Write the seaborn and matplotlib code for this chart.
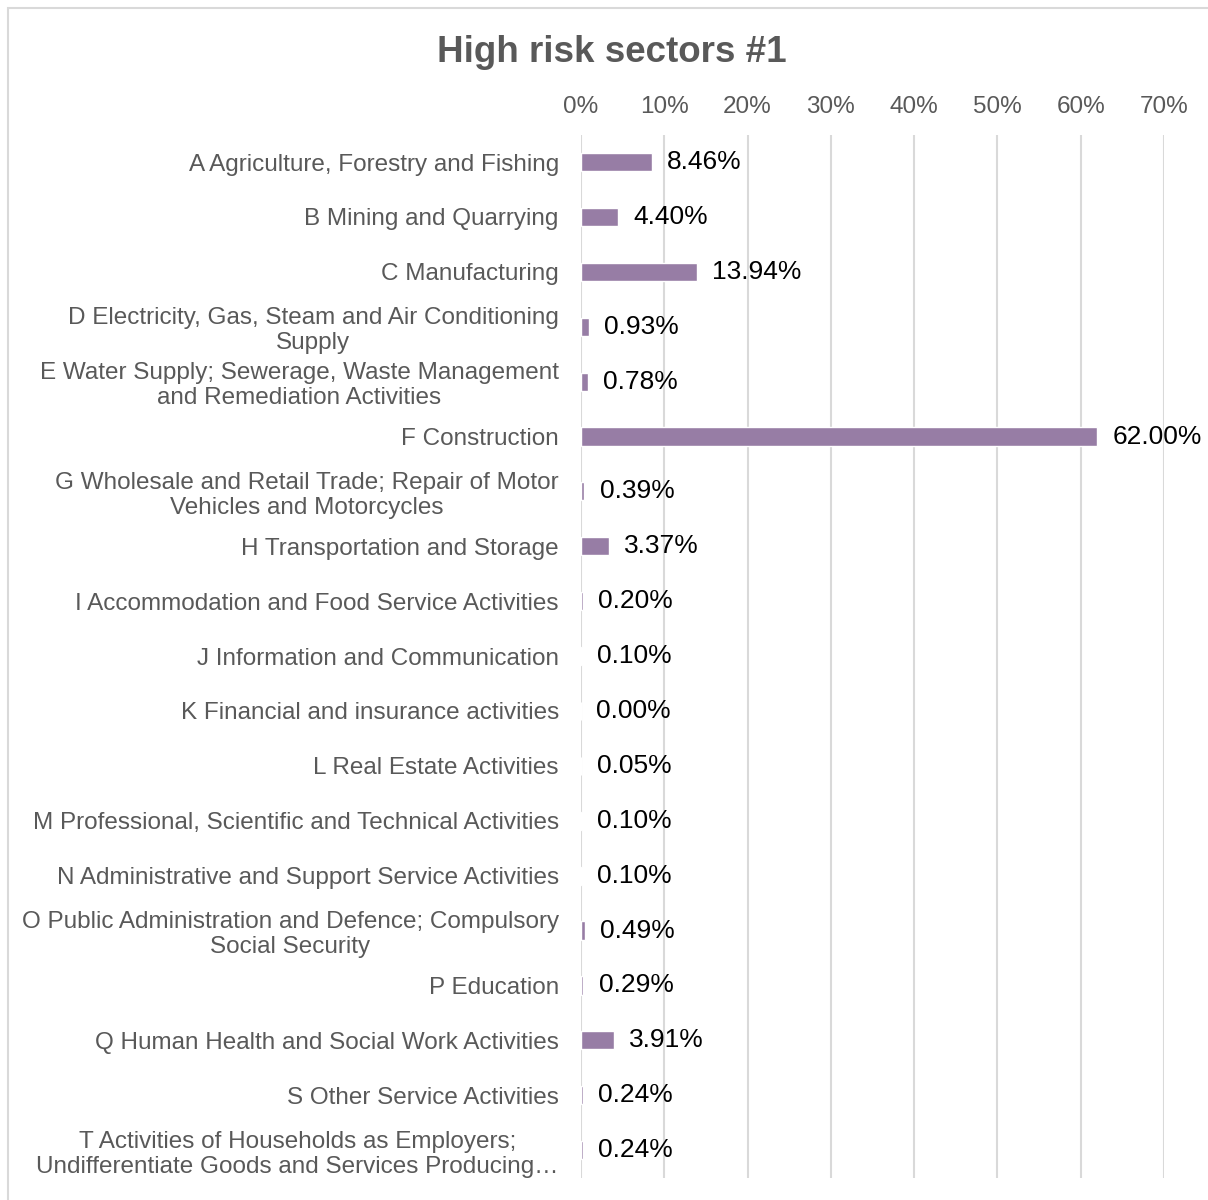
import matplotlib
matplotlib.use("Agg")
import matplotlib.pyplot as plt
import seaborn as sns
import pandas as pd
from matplotlib.patches import Rectangle

# data
sectors = [
    "A Agriculture, Forestry and Fishing",
    "B Mining and Quarrying",
    "C Manufacturing",
    "D Electricity, Gas, Steam and Air Conditioning\nSupply",
    "E Water Supply; Sewerage, Waste Management\nand Remediation Activities",
    "F Construction",
    "G Wholesale and Retail Trade; Repair of Motor\nVehicles and Motorcycles",
    "H Transportation and Storage",
    "I Accommodation and Food Service Activities",
    "J Information and Communication",
    "K Financial and insurance activities",
    "L Real Estate Activities",
    "M Professional, Scientific and Technical Activities",
    "N Administrative and Support Service Activities",
    "O Public Administration and Defence; Compulsory\nSocial Security",
    "P Education",
    "Q Human Health and Social Work Activities",
    "S Other Service Activities",
    "T Activities of Households as Employers;\nUndifferentiate Goods and Services Producing…",
]
shares = [8.46, 4.40, 13.94, 0.93, 0.78, 62.00, 0.39, 3.37, 0.20, 0.10,
          0.00, 0.05, 0.10, 0.10, 0.49, 0.29, 3.91, 0.24, 0.24]
x_ticks = [0, 10, 20, 30, 40, 50, 60, 70]

df = pd.DataFrame({"sector": sectors, "share": shares})

sns.set_style("white")
plt.rcParams["font.family"] = ["Liberation Sans", "DejaVu Sans"]

fig = plt.figure(figsize=(12.08, 12), dpi=100)
ax = fig.add_axes([0.481, 0.0187, 0.4826, 0.8691])

sns.barplot(data=df, x="share", y="sector", orient="h", color="#977DA5",
            saturation=1, width=0.33, ax=ax)

# value labels
texts = ax.bar_label(ax.containers[0], labels=[f"{v:.2f}%" for v in shares],
                     padding=11, fontsize=19, color="black")
for t in texts:
    t.set_va("center")

ax.set_xlim(0, 70)
ax.set_xticks(x_ticks)
ax.set_xticklabels([f"{t}%" for t in x_ticks])
ax.xaxis.tick_top()
ax.tick_params(axis="x", length=0, pad=12, labelsize=17.5, labelcolor="#595959")
ax.tick_params(axis="y", length=0, pad=16, labelsize=17.5, labelcolor="#595959")
for lab in ax.get_yticklabels():
    lab.set_multialignment("center")
    lab.set_linespacing(1.17)
ax.set_xlabel("")
ax.set_ylabel("")
ax.grid(axis="x", color="#d9d9d9", linewidth=1.5)
ax.set_axisbelow(True)
for s in ax.spines.values():
    s.set_visible(False)

fig.text(612 / 1208, 1 - 52 / 1200, "High risk sectors #1", ha="center", va="center",
         fontsize=26.5, fontweight="bold", color="#595959")

# chart border
fig.patches.append(Rectangle((8 / 1208, -0.1), 1.2, 1 - 8 / 1200 + 0.1,
                             transform=fig.transFigure, fill=False,
                             edgecolor="#d9d9d9", linewidth=1.5))

fig.savefig("out.png", dpi=100)
